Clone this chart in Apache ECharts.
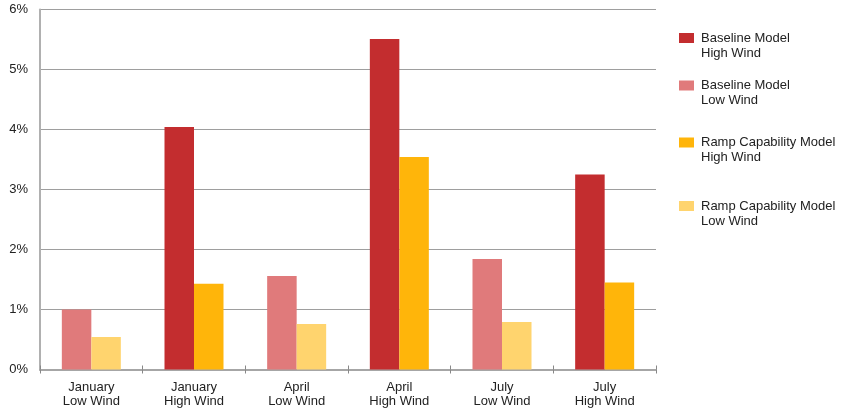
<!DOCTYPE html>
<html>
<head>
<meta charset="utf-8">
<script src="https://cdn.jsdelivr.net/npm/echarts@6/dist/echarts.min.js"></script>
<style>
  html, body { margin: 0; padding: 0; background: #fff; }
  #chart { width: 842px; height: 411px; }
</style>
</head>
<body>
<div id="chart"></div>
<script>
// Scenario categories (month and wind condition)
const categories = [
  'January\nLow Wind', 'January\nHigh Wind',
  'April\nLow Wind', 'April\nHigh Wind',
  'July\nLow Wind', 'July\nHigh Wind'
];

// Values in percent; null where a series does not apply to a scenario
const baselineHigh = [null, 4.04, null, 5.51, null, 3.25];
const baselineLow  = [1.00, null, 1.56, null, 1.84, null];
const rampHigh     = [null, 1.43, null, 3.54, null, 1.45];
const rampLow      = [0.54, null, 0.76, null, 0.79, null];

const seriesNames = [
  'Baseline Model\nHigh Wind',
  'Baseline Model\nLow Wind',
  'Ramp Capability Model\nHigh Wind',
  'Ramp Capability Model\nLow Wind'
];
const yTicks = [0, 1, 2, 3, 4, 5, 6];

const colors = ['#C32D2F', '#E07A7B', '#FFB50A', '#FFD46E'];
const font = 'Liberation Sans, Arial, sans-serif';
const legendTops = [15.5, 63, 120, 183.5];

function bar(name, data, stack, color) {
  return {
    name: name,
    type: 'bar',
    stack: stack,
    data: data,
    barWidth: 29.5,
    barGap: '0%',
    itemStyle: { color: color },
    emphasis: { disabled: true }
  };
}

const chart = echarts.init(document.getElementById('chart'), null, { renderer: 'canvas' });

chart.setOption({
  animation: false,
  color: colors,
  grid: { left: 40, right: 186, top: 9.5, bottom: 41.5, containLabel: false },
  // One legend per entry; a leading empty line keeps the swatch level with the first text line
  legend: seriesNames.map((n, i) => ({
    data: [n],
    orient: 'vertical',
    left: 679,
    top: legendTops[i],
    padding: 0,
    icon: 'rect',
    itemWidth: 15,
    itemHeight: 10,
    selectedMode: false,
    formatter: name => '\n' + name,
    textStyle: {
      fontFamily: font,
      fontSize: 13,
      color: '#222',
      lineHeight: 15,
      padding: [0, 0, 0, 2]
    }
  })),
  xAxis: [{
    type: 'category',
    data: categories,
    axisLine: { lineStyle: { color: '#A6A6A6', width: 2 } },
    axisTick: { show: true, length: 4, lineStyle: { color: '#888' } },
    axisLabel: {
      fontFamily: font, fontSize: 13, color: '#222',
      lineHeight: 14, margin: 11, interval: 0
    }
  }, {
    type: 'category',
    data: categories,
    position: 'bottom',
    axisLine: { show: false },
    axisTick: { show: true, inside: true, length: 4, lineStyle: { color: '#888' } },
    axisLabel: { show: false }
  }],
  yAxis: {
    type: 'value',
    min: yTicks[0],
    max: yTicks[yTicks.length - 1],
    interval: 1,
    axisLine: { show: true, lineStyle: { color: '#B0B0B0', width: 2 } },
    axisTick: { show: false },
    splitLine: { lineStyle: { color: '#9E9E9E', width: 1 } },
    axisLabel: {
      fontFamily: font, fontSize: 13, color: '#222', margin: 12,
      formatter: '{value}%'
    }
  },
  series: [
    bar(seriesNames[0], baselineHigh, 'baseline', colors[0]),
    bar(seriesNames[1], baselineLow, 'baseline', colors[1]),
    bar(seriesNames[2], rampHigh, 'ramp', colors[2]),
    bar(seriesNames[3], rampLow, 'ramp', colors[3])
  ]
});
</script>
</body>
</html>
